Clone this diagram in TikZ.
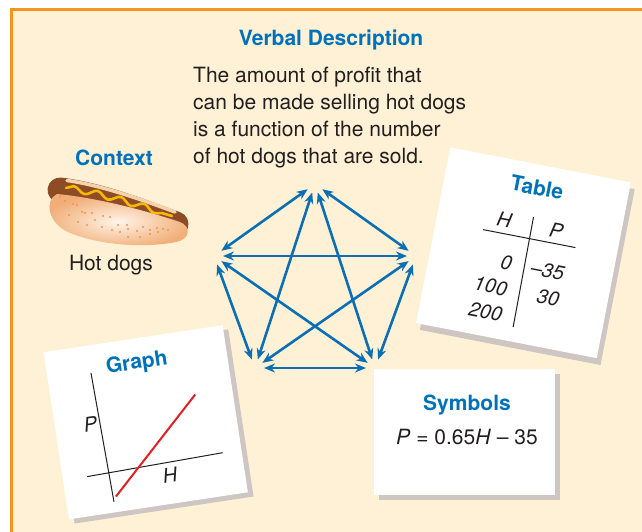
\documentclass[tikz,border=0pt]{standalone}
\usepackage{fontspec}
\setmainfont{TeX Gyre Heros}
\usetikzlibrary{arrows.meta,decorations.pathmorphing}
\definecolor{frameorange}{HTML}{F7941D}
\definecolor{panel}{HTML}{FEF1D5}
\definecolor{headblue}{HTML}{0072BC}
\definecolor{arrowblue}{HTML}{0B6FB6}
\definecolor{ink}{HTML}{231F20}
\definecolor{cardshadow}{HTML}{CEC6C3}
\definecolor{bunlight}{HTML}{FFF4E8}
\definecolor{bundark}{HTML}{F1AE78}
\definecolor{buncrust}{HTML}{F3D2AE}
\definecolor{sausage}{HTML}{8E4C24}
\definecolor{mustard}{HTML}{F9B800}
\definecolor{dotorange}{HTML}{F39445}
\definecolor{plotred}{HTML}{E31E24}

\begin{document}
\begin{tikzpicture}[x=1pt,y=-1pt,
  heading/.style={font=\fontsize{21}{25}\selectfont\bfseries, text=headblue, inner sep=0pt},
  body/.style={font=\fontsize{21}{27}\selectfont, text=ink, inner sep=0pt},
  tabnum/.style={font=\fontsize{20}{24}\selectfont\itshape, text=ink, inner sep=0pt},
  axis/.style={ink, line width=1pt},
  link/.style={arrowblue, line width=2.6pt,
    {Stealth[length=11pt,width=9pt]}-{Stealth[length=11pt,width=9pt]},
    shorten <=9pt, shorten >=9pt},
]
\useasboundingbox (0,0) rectangle (642,531);
\fill[white] (0,0) rectangle (642,531);
\draw[frameorange, line width=3pt, fill=panel] (11,9.5) rectangle (660,550);

% ---------- verbal description ----------
\node[heading, anchor=base] (verbalhead) at (331,45.5) {Verbal Description};
\node[body, anchor=base west] (verb1) at (193,82.5) {The amount of profit that};
\node[body, anchor=base west] (verb2) at (193,109.5) {can be made selling hot dogs};
\node[body, anchor=base west] (verb3) at (193,136.5) {is a function of the number};
\node[body, anchor=base west] (verb4) at (193,163.5) {of hot dogs that are sold.};

% ---------- context: hot dog ----------
\node[heading, anchor=base] (contexthead) at (114,165.5) {Context};
\draw[sausage, line width=25pt, line cap=round]
  (60,190) .. controls (100,195) and (140,211) .. (176,224);
\draw[buncrust, line width=3.5pt, line cap=round]
  (67,180.5) .. controls (100,185) and (140,199) .. (175,212);
\draw[mustard, line width=2.6pt, line cap=round, decorate,
      decoration={snake, amplitude=3pt, segment length=24pt}]
  (66,188) .. controls (100,193) and (140,207) .. (172,216);
\shade[inner color=bunlight, outer color=bundark]
  (57,194) .. controls (100,198) and (150,212) .. (180,222)
  .. controls (191,226) and (191,239) .. (176,242)
  .. controls (140,249) and (95,244) .. (68,232)
  .. controls (48,223) and (44,200) .. (57,194) -- cycle;
\foreach \p in {(60,197),(65,201),(73,204),(77,205),(69,215),(82,212),(85,213),
  (92,213),(78,222),(95,220),(103,216),(110,217),(87,225),(102,227),(118,225),
  (127,225),(112,230),(120,232),(128,229),(137,231),(143,227),(150,230),
  (157,228),(163,229),(128,237),(140,237),(150,234),(158,232),(168,230)}
  \fill[dotorange] \p circle (1.2pt);
\node[body, anchor=base] (hotdogs) at (111,270) {Hot dogs};

% ---------- connections between the five representations ----------
\coordinate (vT) at (315,184);
\coordinate (vL) at (214,256);
\coordinate (vR) at (416,256);
\coordinate (vBL) at (255,368);
\coordinate (vBR) at (375,368);
\foreach \a/\b in {vT/vL, vT/vR, vT/vBL, vT/vBR, vL/vR, vL/vBL, vL/vBR,
                   vR/vBL, vR/vBR, vBL/vBR}
  \draw[link] (\a) -- (\b);

% ---------- table card ----------
\begin{scope}[shift={(523.5,252.75)}, rotate=-11, y=1pt]
  \fill[cardshadow] (-87,-95.5) rectangle (97,83.5);
  \fill[white] (-92,-89.5) rectangle (92,89.5);
  \node[heading, anchor=base, transform shape] (tablehead) at (1,59) {Table};
  \node[tabnum, anchor=base, transform shape] (colH) at (-25,21) {H};
  \node[tabnum, anchor=base, transform shape] (colP) at (28,21) {P};
  \draw[axis] (-44,15) -- (50,15);
  \draw[axis] (3,37) -- (4,-75);
  \node[tabnum, anchor=base east, transform shape] (h0) at (-9,-20) {0};
  \node[tabnum, anchor=base east, transform shape] (h1) at (-9,-46) {100};
  \node[tabnum, anchor=base east, transform shape] (h2) at (-9,-72) {200};
  \node[tabnum, anchor=base east, transform shape] (p0) at (44,-20) {–35};
  \node[tabnum, anchor=base east, transform shape] (p1) at (44,-46) {30};
\end{scope}

% ---------- graph card ----------
\begin{scope}[shift={(145.75,422.25)}, rotate=8.6, y=1pt]
  \fill[cardshadow] (-85.5,-89.5) rectangle (95.5,79.5);
  \fill[white] (-90.5,-84.5) rectangle (90.5,84.5);
  \node[heading, anchor=base, transform shape] (graphhead) at (0,54) {Graph};
  \draw[axis] (-46.8,57) -- (-43.3,-74);
  \draw[axis] (-66,-45) -- (71.5,-41.6);
  \draw[plotred, line width=2pt] (-40.6,-69) -- (53,20);
  \node[tabnum, anchor=base, transform shape] (axisP) at (-55,-1) {P};
  \node[tabnum, anchor=base, transform shape] (axisH) at (16,-63) {H};
\end{scope}

% ---------- symbols card ----------
\fill[cardshadow] (379,374) rectangle (560,500);
\fill[white] (374,369) rectangle (555,495);
\node[heading, anchor=base] (symbolshead) at (467,410) {Symbols};
\node[body, anchor=base] (equation) at (467,444)
  {\textit{P} = 0.65\textit{H} – 35};
\end{tikzpicture}
\end{document}
